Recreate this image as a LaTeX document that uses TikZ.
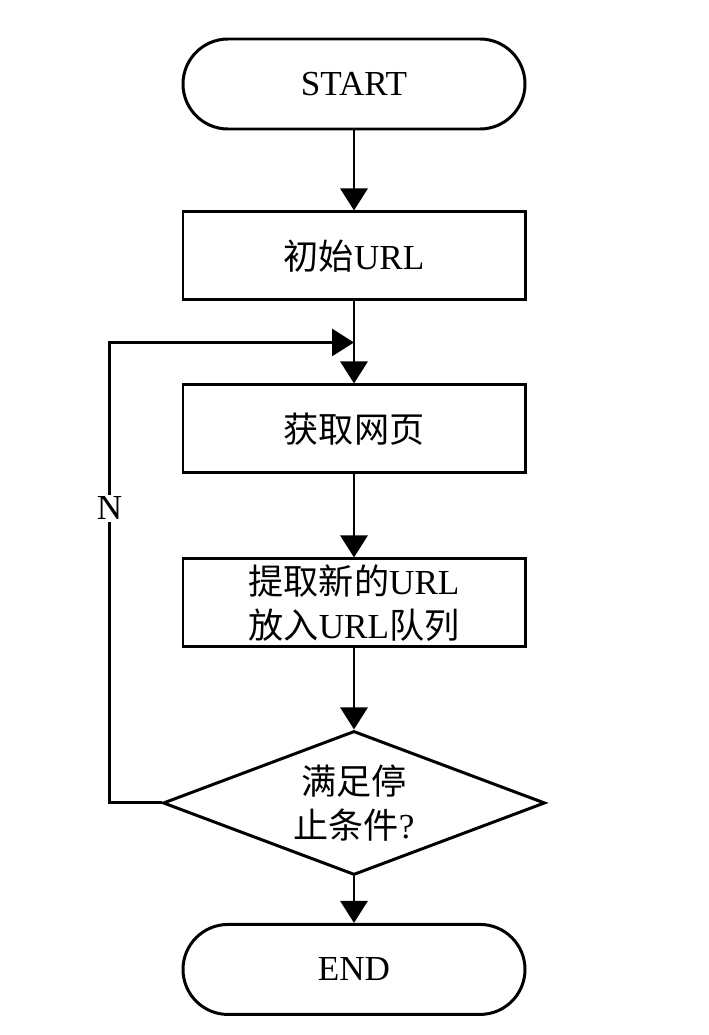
\documentclass[tikz,border=0pt]{standalone}
\usepackage{fontspec}
\setmainfont{Liberation Serif}
\newfontfamily\cjk{Noto Sans CJK SC}
\usetikzlibrary{arrows.meta,positioning,shapes.geometric,calc}
\tikzset{
  proc/.style={draw,line width=1.7pt,minimum width=6.84cm,minimum height=1.76cm,%
    inner sep=2pt,align=center,font=\fontsize{20}{25}\selectfont},
  term/.style={proc,rounded corners=0.9cm,minimum height=1.8cm},
  decide/.style={draw,diamond,aspect=2.65,line width=1.7pt,minimum width=7.64cm,%
    minimum height=2.88cm,inner sep=0pt,align=center,font=\fontsize{20}{25}\selectfont},
  flow/.style={-{Triangle[length=4.4mm,width=5.4mm]},line width=1.7pt},
}

\begin{document}
\begin{tikzpicture}[node distance=16mm]
\useasboundingbox (0,0) rectangle (14.18,-20.7);
\node[term] (start) at (7.08,-1.68) {START};
\node[proc,below=of start] (init) {{\cjk 初始}URL};
\node[proc,below=16.4mm of init] (fetch) {\cjk 获取网页};
\node[proc,below=16.6mm of fetch] (extract) {{\cjk 提取新的}URL\\{\cjk 放入}URL{\cjk 队列}};
\node[decide,below=16.2mm of extract] (check) {\cjk 满足停\\{\cjk 止条件}?};
\node[term,below=9.3mm of check] (stop) {END};
\coordinate (jn) at ($(init.south)!0.5!(fetch.north)$);
\coordinate (back) at ($(check.west)+(-1.04,0)$);
\draw[flow] (start) -- (init);
\draw[flow] (init) -- (fetch);
\draw[flow] (fetch) -- (extract);
\draw[flow] (extract) -- (check);
\draw[flow] (check) -- (stop);
\draw[flow] (check.west) -- (back) |- node[pos=0.32,fill=white,inner sep=1pt,font=\fontsize{20}{24}\selectfont]{N} (jn);
\end{tikzpicture}
\end{document}
